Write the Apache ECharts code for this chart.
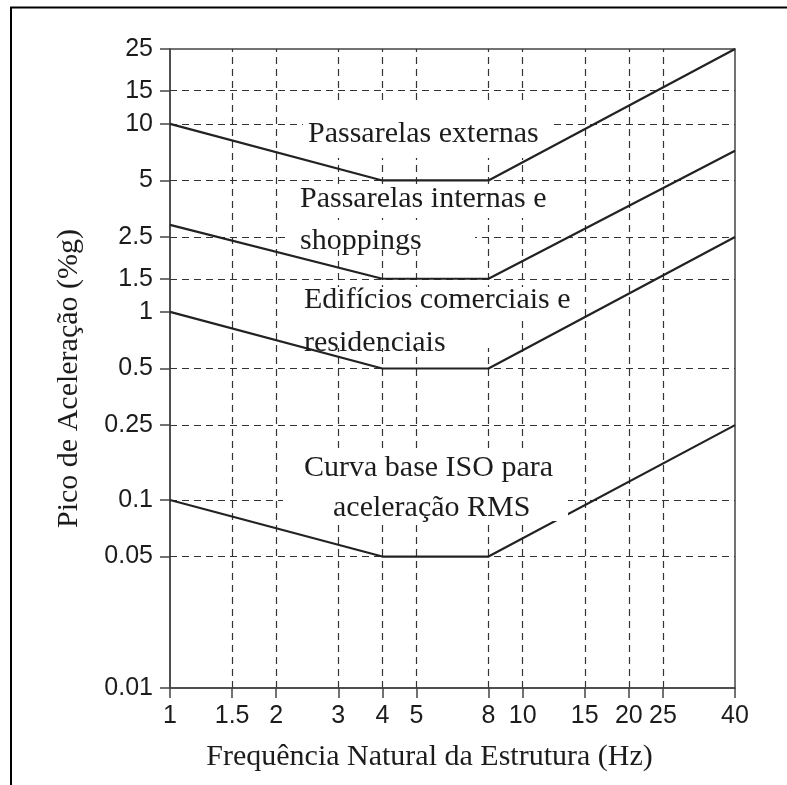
<!DOCTYPE html>
<html>
<head>
<meta charset="utf-8">
<script src="https://cdn.jsdelivr.net/npm/echarts@6/dist/echarts.min.js"></script>
<style>
  html, body { margin: 0; padding: 0; background: #fff; }
  #chart { width: 787px; height: 785px; }
</style>
</head>
<body>
<div id="chart"></div>
<script>
// Frequency breakpoints (Hz) shared by every limit curve
const frequencies = [1, 4, 8, 40];

// Peak acceleration limits (%g) at each breakpoint
const passarelasExternas = [10, 5, 5, 25];
const passarelasInternas = [2.9, 1.5, 1.5, 7.2];
const edificios = [1, 0.5, 0.5, 2.5];
const curvaBaseISO = [0.1, 0.05, 0.05, 0.25];

// Tick values on the two log axes
const xTicks = [1, 1.5, 2, 3, 4, 5, 8, 10, 15, 20, 25, 40];
const yTicks = [0.01, 0.05, 0.1, 0.25, 0.5, 1, 1.5, 2.5, 5, 10, 15, 25];

// Dashed reference lines inside the plot
const xGrid = [1.5, 2, 3, 4, 5, 8, 10, 15, 20, 25];
const yGrid = [0.05, 0.1, 0.25, 0.5, 1.5, 2.5, 5, 10, 15];

const INK = '#1c1c1c';
const AXIS = '#444';
const SERIF = '"Liberation Serif", "Times New Roman", serif';
const SANS = '"Liberation Sans", Arial, sans-serif';

const pairs = vals => frequencies.map((f, i) => [f, vals[i]]);
const fmt = v => String(+Number(v).toPrecision(6));

function curve(name, vals, z) {
  return {
    name, type: 'line', data: pairs(vals), z,
    showSymbol: false, symbol: 'none', silent: true,
    lineStyle: { color: '#222', width: 2.2 },
    animation: false
  };
}

const chart = echarts.init(document.getElementById('chart'), null, { renderer: 'canvas' });

// Annotation boxes (white backing that interrupts the grid) and texts
const boxes = [
  [303, 100, 250, 58],
  [285, 184, 265, 34],
  [285, 220, 190, 30],
  [295, 287, 277, 31],
  [295, 318, 205, 30],
  [283, 450, 285, 71]
];
const notes = [
  ['Passarelas externas', 308, 134],
  ['Passarelas internas e', 300, 199],
  ['shoppings', 300, 241],
  ['Edifícios comerciais e', 304, 300],
  ['residenciais', 304, 343],
  ['Curva base ISO para', 304, 468],
  ['aceleração RMS', 333, 508]
];

const graphic = [
  {
    type: 'rect', z: 10, silent: true,
    shape: { x: 11, y: 7.5, width: 1000, height: 1000 },
    style: { fill: 'none', stroke: '#000', lineWidth: 2 }
  }
].concat(boxes.map(b => ({
  type: 'rect', z: 2, silent: true,
  shape: { x: b[0], y: b[1], width: b[2], height: b[3] },
  style: { fill: '#fff' }
}))).concat(notes.map(n => ({
  type: 'text', z: 4, silent: true,
  x: n[1], y: n[2],
  style: {
    text: n[0], fill: INK, font: '30px ' + SERIF,
    align: 'left', verticalAlign: 'middle'
  }
})));

const option = {
  backgroundColor: '#fff',
  animation: false,
  grid: {
    left: 170, top: 49, width: 565, height: 639,
    show: true, borderColor: AXIS, borderWidth: 1.5, backgroundColor: 'transparent'
  },
  xAxis: {
    type: 'log', logBase: 10, min: 1, max: 40,
    name: 'Frequência Natural da Estrutura (Hz)',
    nameLocation: 'middle', nameGap: 54,
    nameTextStyle: { fontFamily: SERIF, fontSize: 30, color: INK, padding: [0, 46, 0, 0] },
    axisLine: { show: true, lineStyle: { color: AXIS, width: 1.5 } },
    axisTick: { show: true, customValues: xTicks, length: 10, lineStyle: { color: AXIS, width: 1.5 } },
    axisLabel: {
      show: true, customValues: xTicks, formatter: fmt, margin: 16,
      fontFamily: SANS, fontSize: 25, color: INK, hideOverlap: false
    },
    splitLine: { show: false },
    minorTick: { show: false }
  },
  yAxis: {
    type: 'log', logBase: 10, min: 0.01, max: 25,
    name: 'Pico de Aceleração (%g)',
    nameLocation: 'middle', nameGap: 86,
    nameTextStyle: { fontFamily: SERIF, fontSize: 30, color: INK, padding: [0, 20, 0, 0] },
    axisLine: { show: true, lineStyle: { color: AXIS, width: 1.5 } },
    axisTick: { show: true, customValues: yTicks, length: 10, lineStyle: { color: AXIS, width: 1.5 } },
    axisLabel: {
      show: true, customValues: yTicks, formatter: fmt, margin: 17,
      fontFamily: SANS, fontSize: 25, color: INK, hideOverlap: false
    },
    splitLine: { show: false },
    minorTick: { show: false }
  },
  series: [
    {
      name: 'grade', type: 'line', data: [], z: 0, silent: true,
      showSymbol: false,
      markLine: {
        z: 0, silent: true, symbol: 'none', animation: false,
        label: { show: false },
        lineStyle: { color: '#333', type: [7, 5], width: 1.2 },
        emphasis: { disabled: true },
        data: xGrid.map(v => ({ xAxis: v })).concat(yGrid.map(v => ({ yAxis: v })))
      }
    },
    curve('Curva base ISO para aceleração RMS', curvaBaseISO, 1),
    curve('Passarelas externas', passarelasExternas, 3),
    curve('Passarelas internas e shoppings', passarelasInternas, 3),
    curve('Edifícios comerciais e residenciais', edificios, 3)
  ],
  graphic
};

chart.setOption(option);
</script>
</body>
</html>
